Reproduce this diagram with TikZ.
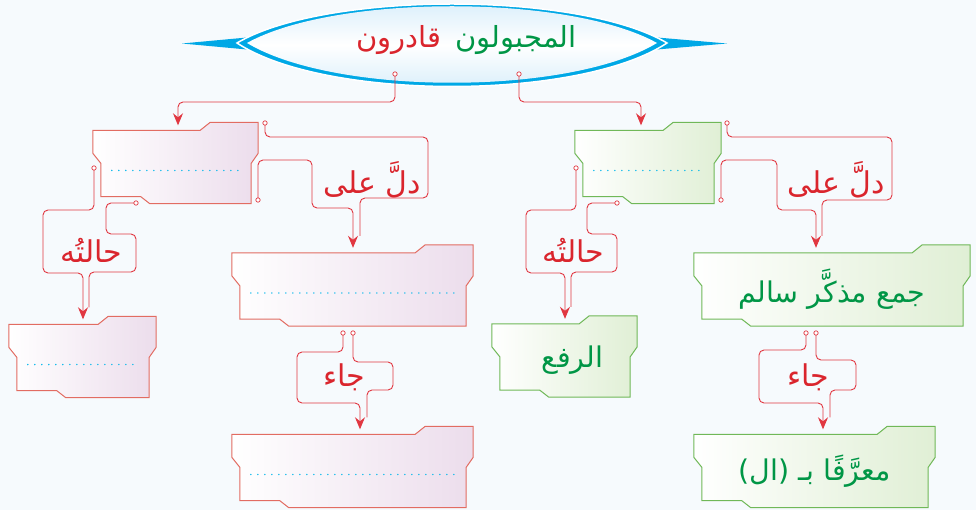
\documentclass[tikz,border=0pt]{standalone}
\usepackage{fontspec}
\usetikzlibrary{arrows.meta,calc,positioning}
\newfontfamily\arabicfont[Script=Arabic]{DejaVu Sans}
\TeXXeTstate=1

\definecolor{pagebg}{RGB}{246,250,253}
\definecolor{tred}{RGB}{218,37,45}
\definecolor{tgreen}{RGB}{0,150,70}
\definecolor{lnk}{RGB}{225,55,65}
\definecolor{pinkline}{RGB}{226,108,98}
\definecolor{pinkfill}{RGB}{236,221,236}
\definecolor{greenline}{RGB}{112,184,88}
\definecolor{greenfill}{RGB}{224,239,213}
\definecolor{lensblue}{RGB}{0,168,230}
\definecolor{lensfill}{RGB}{212,236,250}
\definecolor{dotblue}{RGB}{0,182,235}

\pgfdeclarelayer{back}
\pgfdeclarelayer{frames}
\pgfsetlayers{back,frames,main}

% folder-like frame drawn behind a box node: node, border, fill
\newcommand\tabframe[3]{%
  \begin{pgfonlayer}{frames}
    \path[draw=#2, line width=1pt, left color=white, right color=#3]
      let \p1=(#1.north west), \p2=(#1.south east) in
      (\x1,\y1) -- (\x2-58pt,\y1) -- (\x2-48pt,\y1+8pt) -- (\x2,\y1+8pt)
      -- (\x2,\y1-23pt) -- (\x2-7pt,\y1-33pt) -- (\x2-7pt,\y2)
      -- (\x1+57pt,\y2) -- (\x1+48pt,\y2+7pt) -- (\x1+8pt,\y2+7pt)
      -- (\x1+8pt,\y1-33pt) -- (\x1,\y1-23pt) -- cycle;
  \end{pgfonlayer}}

\begin{document}
\begin{tikzpicture}[x=1pt,y=-1pt,
    link/.style={draw=lnk, line width=0.9pt, rounded corners=5pt},
    tip/.style={-{Stealth[length=12pt,width=10pt,inset=4pt]}, shorten >=5pt},
    side/.style={shorten >=17pt},
    ring/.style={draw=lnk, fill=white, line width=0.7pt},
    ttl/.style={inner sep=0pt, font=\arabicfont\fontsize{29}{32}\selectfont},
    pinkbox/.style={inner sep=0pt, minimum height=73pt},
    greenbox/.style={inner sep=0pt, minimum height=73pt, text=tgreen,
      font=\arabicfont\fontsize{28.5}{32}\selectfont},
    lbl/.style={text=tred, inner sep=0pt, font=\arabicfont\fontsize{30}{34}\selectfont},
    dots/.style={draw=dotblue, line width=1.6pt, line cap=round, dash pattern=on 0pt off 7pt}]

  % page
  \useasboundingbox (0,0) rectangle (976,510);
  \begin{pgfonlayer}{back}
    \fill[pagebg] (0,0) rectangle (976,510);
  \end{pgfonlayer}

  % title lens with its two wings
  \begin{pgfonlayer}{frames}
    \fill[lensblue] (182,43.5) -- (247,37.5) -- (247,49.5) -- cycle;
    \fill[lensblue] (727,43.5) -- (657,37.5) -- (657,49.5) -- cycle;
    \filldraw[draw=white, line width=1.5pt, fill=lensblue]
      (237,43) .. controls (325,-9) and (579,-9) .. (667,43)
      .. controls (579,101) and (325,101) .. cycle;
    \shade[top color=lensfill, bottom color=lensfill, middle color=white]
      (247,43) .. controls (335,-6) and (569,-6) .. (657,43)
      .. controls (569,96) and (335,96) .. cycle;
  \end{pgfonlayer}
  \node[ttl, text=tgreen, anchor=east] (ttlG) at (577,40) {\beginR المجبولون\endR};
  \node[ttl, text=tred, left=14pt of ttlG] (ttlR) {\beginR قادرون\endR};

  % boxes
  \node[pinkbox, minimum width=165pt] (boxA) at (175.5,167) {};
  \node[greenbox, minimum width=146pt] (boxB) at (648,167) {};
  \node[pinkbox, minimum width=241pt] (boxD) at (352.5,289.5) {};
  \node[greenbox, minimum width=276pt] (boxC) at (832,289.5) {\beginR جمع مذكَّر سالم\endR};
  \node[pinkbox, minimum width=147pt] (boxE) at (82.5,361) {};
  \node[greenbox, minimum width=145pt] (boxG) at (564.5,360.5) {\hspace*{16pt}\beginR الرفع\endR};
  \node[pinkbox, minimum width=241pt] (boxF) at (352.5,471) {};
  \node[greenbox, minimum width=241pt] (boxH) at (814.5,471) {\beginR معرَّفًا بـ (ال)\endR};

  \foreach \b in {boxA,boxD,boxE,boxF} \tabframe{\b}{pinkline}{pinkfill};
  \foreach \b in {boxB,boxC,boxG,boxH} \tabframe{\b}{greenline}{greenfill};

  % dotted blanks
  \foreach \b in {boxA,boxB,boxD,boxE,boxF}
    \draw[dots] ($(\b.west)+(19,3.5)$) -- ($(\b.east)+(-17,3.5)$);

  % labels on the links
  \node[lbl] (dalA) at (372,180) {\beginR دلَّ على\endR};
  \node[lbl] (dalB) at (836,180) {\beginR دلَّ على\endR};
  \node[lbl] (halA) at (91,250) {\beginR حالتُه\endR};
  \node[lbl] (halB) at (573,250) {\beginR حالتُه\endR};
  \node[lbl] (jaD) at (344,377) {\beginR جاء\endR};
  \node[lbl] (jaC) at (808,377) {\beginR جاء\endR};

  % ring points where the links start
  \coordinate (t1) at (395,74);
  \coordinate (t2) at (519,74);
  \coordinate (a1) at (265,123);
  \coordinate (a2) at (258,200);
  \coordinate (a3) at (94,168);
  \coordinate (a4) at (136,203);
  \coordinate (b1) at (727,123);
  \coordinate (b2) at (721,200);
  \coordinate (b3) at (576,168);
  \coordinate (b4) at (617,203);
  \coordinate (d1) at (343,333);
  \coordinate (d2) at (353,333);
  \coordinate (c1) at (806,333);
  \coordinate (c2) at (816,333);

  % links
  \draw[link,tip] (t1) |- (178,102) -- (178,0 |- boxA.north);
  \draw[link,tip] (t2) |- (641,102) -- (641,0 |- boxB.north);

  \draw[link,side] (a1) |- (428,137) |- (360,198) -- (360,0 |- boxD.north);
  \draw[link,tip] (a2) |- (312,160) |- (353,208) -- (353,0 |- boxD.north);
  \draw[link,side] (b1) |- (892,137) |- (822,200) -- (822,0 |- boxC.north);
  \draw[link,tip] (b2) |- (777,160) |- (816,210) -- (816,0 |- boxC.north);

  \draw[link,tip] (a3) |- (43,210) |- (83,273) -- (83,0 |- boxE.north);
  \draw[link,side] (a4) -| (106,234) -| (136,272) -- (89,272) -- (89,0 |- boxE.north);
  \draw[link,tip] (b3) |- (526,210) |- (565,273) -- (565,0 |- boxG.north);
  \draw[link,side] (b4) -| (587,234) -| (617,272) -- (571,272) -- (571,0 |- boxG.north);

  \draw[link,tip] (d1) |- (297,352) |- (360,403) -- (360,0 |- boxF.north);
  \draw[link,side] (d2) |- (393,362) |- (367,390) -- (367,0 |- boxF.north);
  \draw[link,tip] (c1) |- (759,350) |- (823,403) -- (823,0 |- boxH.north);
  \draw[link,side] (c2) |- (856,360) |- (830,390) -- (830,0 |- boxH.north);

  \foreach \p in {t1,t2,a1,a2,a3,a4,b1,b2,b3,b4,d1,d2,c1,c2}
    \draw[ring] (\p) circle (2.2pt);
\end{tikzpicture}
\end{document}
